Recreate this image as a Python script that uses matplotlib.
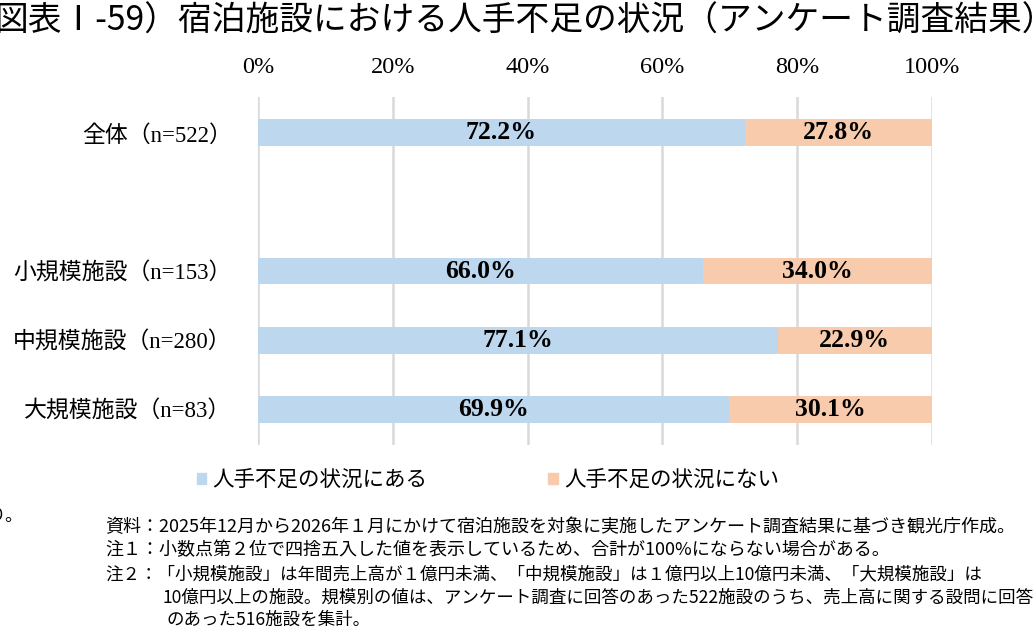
import numpy as np
import matplotlib
matplotlib.use('Agg')
import matplotlib.pyplot as plt
from matplotlib.patches import Patch

# データ
groups = ['全体（n=522）', '小規模施設（n=153）', '中規模施設（n=280）', '大規模施設（n=83）']
shortage = [72.2, 66.0, 77.1, 69.9]      # 人手不足の状況にある
no_shortage = [27.8, 34.0, 22.9, 30.1]   # 人手不足の状況にない
series_names = ['人手不足の状況にある', '人手不足の状況にない']
x_ticks = [0, 20, 40, 60, 80, 100]

title = '図表Ⅰ-59）宿泊施設における人手不足の状況（アンケート調査結果）'
notes = [
    '資料：2025年12月から2026年１月にかけて宿泊施設を対象に実施したアンケート調査結果に基づき観光庁作成。',
    '注１：小数点第２位で四捨五入した値を表示しているため、合計が100%にならない場合がある。',
    '注２：「小規模施設」は年間売上高が１億円未満、「中規模施設」は１億円以上10億円未満、「大規模施設」は',
    '10億円以上の施設。規模別の値は、アンケート調査に回答のあった522施設のうち、売上高に関する設問に回答',
    'のあった516施設を集計。',
]

blue = '#BDD7EE'
orange = '#F8CBAD'
serif_jp = ['Liberation Serif', 'Noto Sans CJK JP']
sans_jp = ['Noto Sans CJK JP', 'DejaVu Sans']

W, H = 1036, 631
fig = plt.figure(figsize=(W / 100, H / 100), dpi=100)
ax = fig.add_axes([258 / W, 1 - 445 / H, (932 - 258) / W, (445 - 97) / H])

# 全体と規模別の間に空行を1つ入れる
ypos = np.array([0] + [i + 1 for i in range(1, len(groups))])
bar_h = 0.39

b1 = ax.barh(ypos, shortage, height=bar_h, color=blue, zorder=3)
b2 = ax.barh(ypos, no_shortage, left=shortage, height=bar_h, color=orange, zorder=3)
for bars in (b1, b2):
    ax.bar_label(bars, fmt='%.1f%%', label_type='center', fontsize=18.5,
                 fontweight='bold', family='Liberation Serif', color='black')

ax.set_xlim(0, 100)
ax.set_ylim(ypos[-1] + 0.52, -0.52)
ax.set_xticks(x_ticks)
ax.set_xticklabels([f'{t}%' for t in x_ticks], family='Liberation Serif', fontsize=17.5)
ax.xaxis.tick_top()
ax.tick_params(axis='x', length=0, pad=14)
ax.set_yticks(ypos)
ax.set_yticklabels(groups, family=serif_jp, fontsize=16.5)
ax.tick_params(axis='y', length=0, pad=19)
ax.grid(axis='x', color='#d9d9d9', lw=1.8, zorder=0)
for s in ax.spines.values():
    s.set_visible(False)

handles = [Patch(color=blue), Patch(color=orange)]
fig.legend(handles, series_names, loc='center', bbox_to_anchor=(488 / W, 1 - 481 / H),
           ncol=2, frameon=False, handlelength=0.45, handleheight=0.45,
           handletextpad=0.3, columnspacing=5.6,
           prop={'family': serif_jp, 'size': 15.5})

# 元画像と同じく左端で切れたタイトル
fig.text(-0.006, 1 - 21 / H, title, fontsize=24.3, family=sans_jp, va='center', ha='left')

fig.text(-0.012, 1 - 516 / H, 'り。', fontsize=13, family=sans_jp, va='center')
note_x = [105, 105, 105, 163, 166]
note_y = [527, 550, 574, 598, 620]
note_size = [13, 13, 12.6, 12.6, 12.6]
for t, nx, ny, fs in zip(notes, note_x, note_y, note_size):
    fig.text(nx / W, 1 - ny / H, t, fontsize=fs, family=sans_jp, va='center', ha='left')

fig.savefig('out.png', dpi=100)
